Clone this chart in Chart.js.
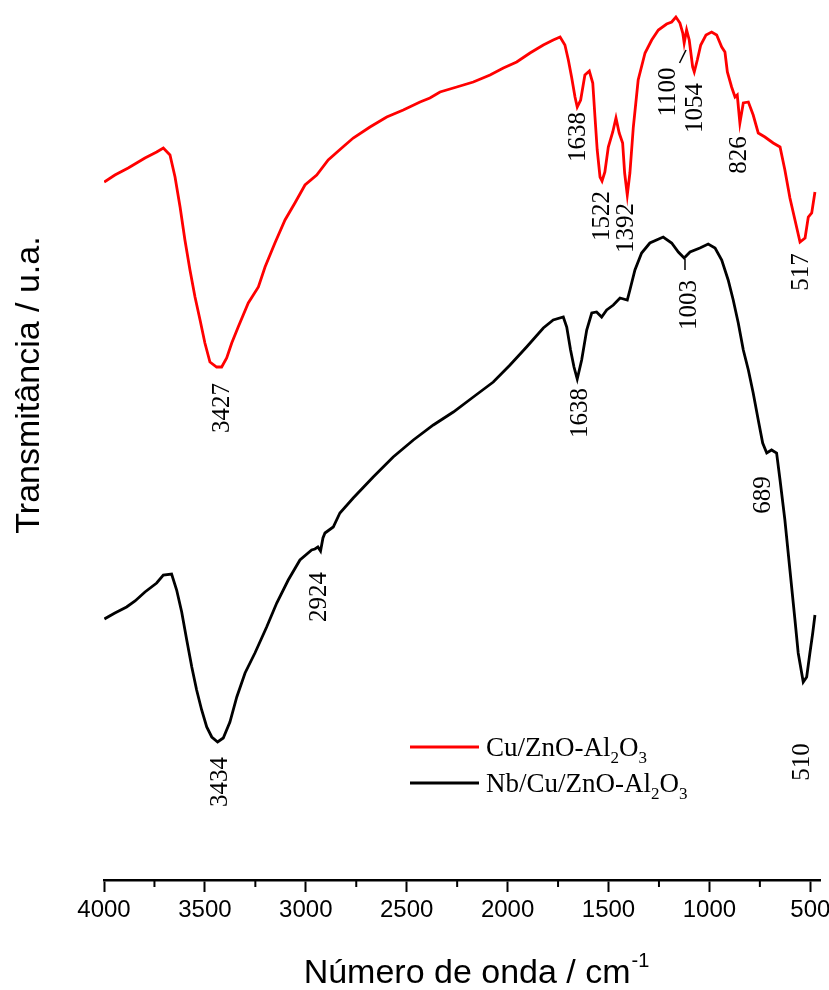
<!DOCTYPE html>
<html><head><meta charset="utf-8">
<script src="https://cdn.jsdelivr.net/npm/chart.js@4"></script>
<style>html,body{margin:0;padding:0;background:#fff}</style>
</head><body>
<canvas id="c" width="829" height="990" style="display:block"></canvas>
<script>
const seriesNames = ['Cu/ZnO-Al2O3', 'Nb/Cu/ZnO-Al2O3'];
const seriesColors = ['#ff0000', '#000000'];

const redWavenumber = [3999,3946,3880,3797,3739,3706,3673,3648,3623,3599,3574,3549,3524,3500,3475,3442,3417,3392,3367,3335,3285,3235,3202,3153,3103,3054,3004,2946,2889,2822,2765,2682,2599,2517,2434,2385,2335,2252,2170,2087,2021,1955,1889,1823,1774,1740,1716,1699,1683,1666,1655,1638,1617,1595,1578,1567,1556,1542,1532,1518,1501,1479,1463,1447,1430,1420,1407,1394,1377,1353,1319,1286,1253,1212,1187,1166,1146,1132,1125,1113,1100,1083,1075,1060,1043,1017,989,964,939,923,911,890,873,862,849,832,807,783,758,725,684,650,626,601,576,551,526,510,493,477];
const redTransmittance = [69.8,70.5,71.2,72.2,72.8,73.2,72.5,70.3,67.3,64.0,61.0,58.3,56.0,53.7,51.8,51.3,51.3,52.2,53.7,55.3,57.7,59.3,61.3,63.7,66.0,67.7,69.5,70.5,72.0,73.2,74.2,75.3,76.3,77.0,77.8,78.2,78.8,79.3,79.8,80.5,81.2,81.8,82.7,83.5,84.0,84.3,83.5,82.0,80.3,78.3,77.3,78.0,80.5,80.9,79.7,76.3,73.0,70.3,69.9,70.8,73.3,74.8,76.2,74.7,73.7,70.7,68.5,70.7,75.3,80.0,82.7,84.0,85.0,85.6,85.8,86.3,85.7,84.7,83.7,85.0,84.0,81.3,80.8,82.0,83.5,84.5,84.8,84.5,83.3,82.8,80.8,79.3,78.3,78.5,75.7,77.7,77.8,76.5,74.7,74.3,73.7,73.3,71.0,68.2,66.0,63.8,64.2,66.3,66.7,68.8];

const blackWavenumber = [3998,3946,3888,3846,3797,3739,3706,3665,3640,3615,3590,3565,3541,3516,3491,3466,3437,3409,3376,3342,3301,3252,3194,3144,3087,3029,2971,2955,2940,2927,2915,2905,2864,2831,2765,2666,2567,2467,2368,2269,2170,2071,1988,1906,1823,1774,1724,1707,1688,1671,1655,1633,1608,1583,1559,1534,1509,1476,1443,1407,1394,1369,1336,1295,1229,1187,1154,1125,1096,1047,1006,972,939,907,882,857,832,807,783,758,736,716,692,667,650,626,601,576,560,535,518,502,488,477];
const blackTransmittance = [26.1,26.7,27.3,27.9,28.8,29.7,30.5,30.6,29.0,26.8,24.0,21.3,19.0,17.0,15.3,14.3,13.8,14.2,15.8,18.3,20.7,22.7,25.3,27.7,30.0,32.0,33.0,33.1,33.3,32.9,34.2,34.7,35.3,36.7,38.2,40.3,42.3,44.0,45.5,46.8,48.3,49.8,51.5,53.3,55.2,56.0,56.3,55.3,53.0,51.3,50.1,52.0,55.0,56.7,56.8,56.3,57.0,57.5,58.2,58.0,59.0,61.0,62.7,63.7,64.3,63.7,62.8,62.2,62.8,63.2,63.6,63.2,62.0,60.0,58.0,55.7,53.0,51.0,48.7,46.0,43.7,42.7,43.0,42.7,40.0,36.0,31.0,26.0,22.7,19.8,20.3,22.7,24.7,26.5];

const xTickValues = [4000,3500,3000,2500,2000,1500,1000,500];
const xMinorTickValues = [3750,3250,2750,2250,1750,1250,750];

const peakLabels = ['3427','1638','1522','1392','1100','1054','826','517','3434','2924','1638','1003','689','510'];
const peakLabelWn = [3415,1651,1532,1409,1205,1067,849,546,3425,2930,1641,1101,730,541];
const peakLabelVal = [47.2,74.3,66.4,65.2,78.8,77.2,72.5,60.8,9.8,28.3,46.7,57.5,38.5,11.8];
const leaderWn = [[1116,1148],[1121,1121]];
const leaderVal = [[83.0,81.7],[62.1,61.0]];

const xTitle = 'Número de onda / cm';
const xTitleSup = '-1';
const yTitle = 'Transmitância / u.a.';

const SERIF = '"Liberation Serif", "Times New Roman", serif';
const SANS = '"Liberation Sans", Arial, sans-serif';

function drawChem(ctx, text, x, y, size) {
  let cx = x;
  for (const ch of text) {
    if (/[0-9]/.test(ch)) {
      ctx.font = Math.round(size*0.62) + 'px ' + SERIF;
      ctx.fillText(ch, cx, y + size*0.25);
    } else {
      ctx.font = size + 'px ' + SERIF;
      ctx.fillText(ch, cx, y);
    }
    cx += ctx.measureText(ch).width;
  }
}

const decor = {
  id: 'decor',
  afterDraw(chart) {
    const ctx = chart.ctx, xs = chart.scales.x, ys = chart.scales.y;
    ctx.save();
    ctx.strokeStyle = '#000'; ctx.lineWidth = 2;
    xMinorTickValues.forEach(v => {
      const px = xs.getPixelForValue(v);
      ctx.beginPath(); ctx.moveTo(px, ys.bottom); ctx.lineTo(px, ys.bottom + 7); ctx.stroke();
    });
    ctx.fillStyle = '#000';
    ctx.font = '25px ' + SERIF;
    ctx.textAlign = 'center'; ctx.textBaseline = 'middle';
    peakLabels.forEach((t, i) => {
      const px = xs.getPixelForValue(peakLabelWn[i]), py = ys.getPixelForValue(peakLabelVal[i]);
      ctx.save(); ctx.translate(px, py); ctx.rotate(-Math.PI/2); ctx.fillText(t, 0, 0); ctx.restore();
    });
    ctx.lineWidth = 1.5;
    leaderWn.forEach((w, i) => {
      ctx.beginPath();
      ctx.moveTo(xs.getPixelForValue(w[0]), ys.getPixelForValue(leaderVal[i][0]));
      ctx.lineTo(xs.getPixelForValue(w[1]), ys.getPixelForValue(leaderVal[i][1]));
      ctx.stroke();
    });
    // legend
    const legY = [747, 783];
    ctx.textAlign = 'left'; ctx.textBaseline = 'alphabetic';
    chart.data.datasets.forEach((ds, i) => {
      ctx.strokeStyle = ds.borderColor; ctx.lineWidth = 2.8;
      ctx.beginPath(); ctx.moveTo(410, legY[i]); ctx.lineTo(479, legY[i]); ctx.stroke();
      ctx.fillStyle = '#000';
      drawChem(ctx, ds.label, 486, legY[i] + 9, 27);
    });
    // x title
    ctx.font = '34px ' + SANS;
    const w1 = ctx.measureText(xTitle).width;
    ctx.font = '20px ' + SANS;
    const w2 = ctx.measureText(xTitleSup).width;
    const sx = 476 - (w1 + w2) / 2;
    ctx.font = '34px ' + SANS;
    ctx.fillText(xTitle, sx, 983);
    ctx.font = '20px ' + SANS;
    ctx.fillText(xTitleSup, sx + w1 + 1, 967);
    // y title
    ctx.font = '34px ' + SANS;
    ctx.textAlign = 'center'; ctx.textBaseline = 'middle';
    ctx.save(); ctx.translate(30, 385); ctx.rotate(-Math.PI/2); ctx.fillText(yTitle, 0, 0); ctx.restore();
    ctx.restore();
  }
};

new Chart(document.getElementById('c').getContext('2d'), {
  type: 'line',
  data: {
    datasets: [
      { label: seriesNames[0], data: redWavenumber.map((x, i) => ({x, y: redTransmittance[i]})), borderColor: seriesColors[0], borderWidth: 2.8, pointRadius: 0, tension: 0, fill: false },
      { label: seriesNames[1], data: blackWavenumber.map((x, i) => ({x, y: blackTransmittance[i]})), borderColor: seriesColors[1], borderWidth: 2.8, pointRadius: 0, tension: 0, fill: false }
    ]
  },
  options: {
    responsive: false, animation: false, devicePixelRatio: 1,
    layout: { padding: { left: 104, right: 8.6, top: 10, bottom: 0 } },
    plugins: { legend: { display: false }, tooltip: { enabled: false } },
    scales: {
      x: {
        type: 'linear', reverse: true, min: 450, max: 4000,
        afterBuildTicks: s => { s.ticks = xTickValues.map(v => ({ value: v })); },
        afterFit: s => { s.height = 110; s.paddingLeft = 0; s.paddingRight = 0; },
        grid: { display: true, drawOnChartArea: false, drawTicks: true, tickLength: 12, tickWidth: 2, tickColor: '#000' },
        border: { display: true, color: '#000', width: 2.5 },
        ticks: { color: '#000', font: { family: SANS, size: 24 }, padding: 4, maxRotation: 0, autoSkip: false, callback: v => String(v) },
        title: { display: false }
      },
      y: { type: 'linear', display: false, min: 0, max: 87 }
    }
  },
  plugins: [decor]
});
</script>
</body></html>
